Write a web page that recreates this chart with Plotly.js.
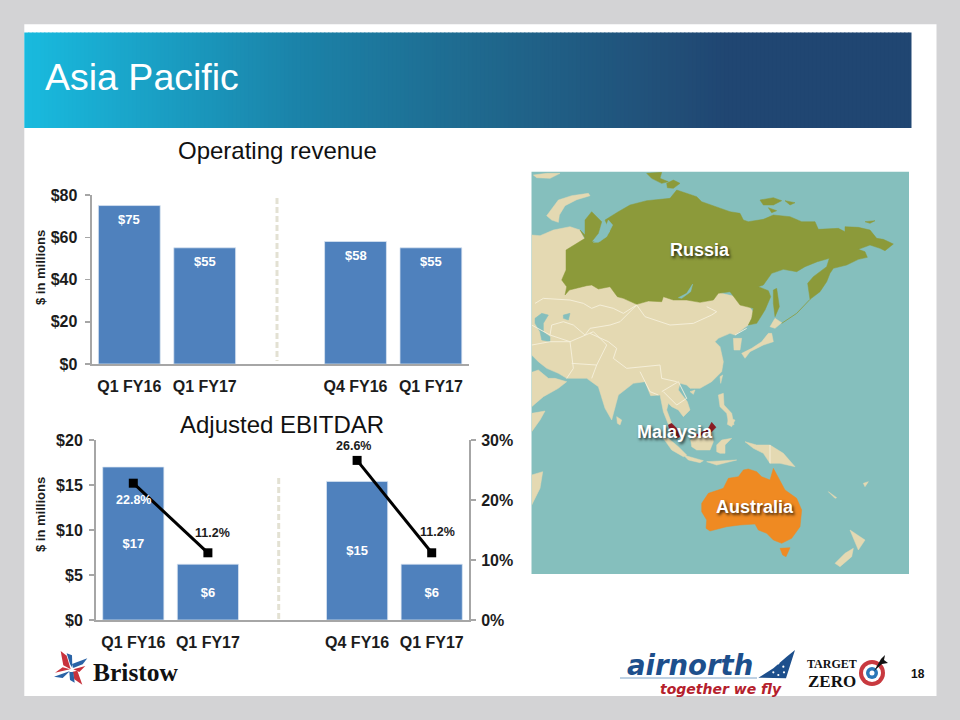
<!DOCTYPE html>
<html><head><meta charset="utf-8">
<script src="https://cdn.plot.ly/plotly-3.0.1.min.js"></script>
<style>html,body{margin:0;padding:0;background:#d3d3d5;overflow:hidden}#c{width:960px;height:720px}</style>
</head><body><div id="c"></div>
<script>
// ---------- chart values ----------
const barSlots = [0, 1, 3, 4];
const revenueTicks = ['Q1 FY16', 'Q1 FY17', 'Q4 FY16', 'Q1 FY17'];
const revenueValues = [75, 55, 58, 55];
const revenueLabels = ['$75', '$55', '$58', '$55'];
const ebitdarValues = [17, 6.2, 15.4, 6.2];
const ebitdarLabels = ['$17', '$6', '$15', '$6'];
const marginSlots = [0, 1, null, 3, 4];
const marginValues = [22.8, 11.2, null, 26.6, 11.2];
const marginPoints = [22.8, 11.2, 26.6, 11.2];
const marginLabels = ['22.8%', '11.2%', '26.6%', '11.2%'];
const revenueAxisVals = [0, 20, 40, 60, 80];
const revenueAxisText = ['$0', '$20', '$40', '$60', '$80'];
const ebitdarAxisVals = [0, 5, 10, 15, 20];
const ebitdarAxisText = ['$0', '$5', '$10', '$15', '$20'];
const marginAxisVals = [0, 10, 20, 30];
const marginAxisText = ['0%', '10%', '20%', '30%'];

// ---------- map outlines (hidden map axes) ----------
const mapBeige = [
 [[5,210],[30,212],[70,195],[120,185],[150,195],[200,300],[640,400],[672,445],[655,480],[640,492],[615,510],[600,505],[565,520],[555,530],[570,545],[580,590],[575,620],[545,650],[510,670],[480,670],[470,660],[450,655],[445,675],[472,710],[480,735],[460,755],[445,735],[425,725],[415,715],[410,735],[425,775],[415,778],[400,740],[390,690],[362,692],[345,650],[310,655],[265,690],[245,765],[225,730],[205,665],[170,640],[110,640],[85,625],[50,610],[25,590],[5,570]],
 [[5,622],[25,615],[55,640],[75,640],[110,650],[85,670],[40,695],[5,725]],
 [[5,745],[45,738],[30,765],[5,800]],
 [[5,930],[38,920],[30,970],[5,1020]],
 [[50,152],[62,135],[85,105],[125,92],[175,85],[180,92],[140,104],[105,122],[88,150],[85,172],[65,165]],
 [[10,30],[50,25],[90,25],[60,40],[20,38]],
 [[610,520],[635,520],[630,555],[612,555]],
 [[720,485],[735,460],[755,473],[735,490]],
 [[725,505],[730,530],[700,540],[660,560],[645,580],[635,565],[665,550],[695,530],[715,505]],
 [[570,635],[578,630],[572,655]],
 [[480,680],[495,675],[490,688]],
 [[260,755],[275,765],[270,780],[262,775]],
 [[565,690],[580,685],[582,720],[605,745],[612,780],[595,770],[590,745],[570,725]],
 [[595,760],[615,765],[605,785],[592,778]],
 [[482,825],[510,805],[545,800],[550,830],[540,855],[500,855],[485,845]],
 [[400,820],[415,820],[445,845],[470,870],[460,875],[425,855]],
 [[460,870],[500,880],[520,887],[510,893],[475,885]],
 [[530,890],[610,887],[620,885],[560,900]],
 [[560,840],[575,825],[605,820],[585,840],[585,865],[570,865],[560,860]],
 [[645,830],[680,840],[720,840],[760,865],[795,905],[750,895],[720,895],[700,865],[670,850]],
 [[960,1095],[975,1105],[1005,1125],[985,1155],[975,1130]],
 [[915,1195],[945,1165],[970,1150],[965,1175],[930,1205]],
 [[895,980],[920,998],[915,1000]],
 [[1000,955],[1015,950],[1005,965]]
];
const mapRussia = [
 [[105,390],[118,375],[170,362],[185,360],[205,372],[240,365],[262,395],[280,400],[320,418],[355,408],[395,410],[400,395],[430,405],[470,405],[510,412],[550,405],[565,385],[600,380],[630,420],[670,430],[665,460],[655,480],[680,475],[705,435],[722,395],[715,377],[685,365],[700,360],[725,325],[760,313],[800,320],[825,305],[862,290],[898,280],[890,305],[850,335],[833,355],[840,403],[870,380],[890,350],[900,325],[910,310],[950,300],[985,283],[1012,277],[1005,260],[985,253],[1020,240],[1050,250],[1065,257],[1090,237],[1060,223],[1040,220],[1020,195],[985,187],[945,185],[945,200],[925,190],[865,193],[855,170],[815,170],[780,155],[730,150],[700,163],[655,170],[640,165],[630,145],[600,140],[515,110],[500,95],[440,75],[420,100],[350,107],[300,120],[265,140],[240,155],[225,165],[240,200],[210,230],[185,230],[205,205],[215,170],[185,140],[165,165],[165,210],[150,195],[165,220],[108,255],[108,315],[95,345],[110,365]],
 [[350,25],[395,22],[390,40],[415,50],[395,55],[365,40]],
 [[410,55],[430,45],[450,55],[430,70],[412,68]],
 [[690,105],[730,98],[755,107],[730,120],[700,120]],
 [[765,107],[795,113],[780,120]],
 [[715,128],[740,137],[725,143]],
 [[1005,170],[1035,167],[1020,175]],
 [[730,375],[740,370],[748,425],[735,455],[730,415]]
];
const mapAustralia = [
 [[515,1015],[535,985],[580,970],[595,940],[625,935],[640,915],[655,912],[680,920],[695,935],[720,945],[730,910],[755,955],[765,975],[800,1000],[815,1035],[810,1085],[785,1120],[755,1135],[730,1125],[710,1105],[685,1095],[675,1077],[630,1080],[590,1085],[540,1098],[528,1090],[530,1065],[515,1040]],
 [[750,1150],[780,1148],[768,1175],[758,1170]]
];
const mapMalaysia = [
 [[480,815],[510,805],[535,790],[545,772],[558,787],[545,800],[510,812]],
 [[415,780],[425,775],[440,790],[450,815],[440,820],[420,800]]
];
const mapWater = [
 [[15,460],[35,445],[55,450],[40,475],[40,500],[60,515],[60,530],[35,525],[30,500],[15,475]],
 [[100,450],[120,445],[115,465],[100,460]],
 [[445,398],[470,385],[488,357],[482,380],[455,400]],
 [[235,165],[248,180],[230,215],[205,232],[190,232],[215,215]]
];
const mapBorders = [
 [[15,415],[40,400],[120,405],[160,415],[185,430],[210,420],[250,430],[280,445],[320,420]],
 [[320,420],[345,455],[420,480],[490,475],[545,450],[560,440],[530,425]],
 [[320,420],[270,470],[240,480],[180,490],[165,510],[130,480],[100,470],[65,480],[60,510]],
 [[180,505],[235,530],[260,550],[250,580],[290,610],[350,605],[390,600],[395,640],[440,650]],
 [[120,530],[130,610],[110,640]],
 [[120,530],[190,500],[230,540],[200,600],[125,595]],
 [[200,600],[185,640]],
 [[330,620],[360,680],[385,690]],
 [[395,680],[445,650],[470,700],[440,720],[400,680]],
 [[615,510],[650,490]],
 [[720,840],[720,895]],
 [[5,480],[60,510],[120,530]],
 [[5,540],[60,530],[120,530]]
];
const mapKurils = [[755,475],[800,445],[840,403]];

// ---------- helpers ----------
const W = 960, H = 720;
const fx = p => p / W, fy = p => 1 - p / H;
const rawFont = (size, color, bold, family) => ({size, color, family: family || 'Liberation Sans, Arial, sans-serif', weight: bold ? 700 : 400});
function polyTrace(polys, color, lineWidth, isLine) {
  const x = [], y = [];
  polys.forEach(p => { p.forEach(q => { x.push(q[0]); y.push(q[1]); }); if (!isLine) { x.push(p[0][0]); y.push(p[0][1]); } x.push(null); y.push(null); });
  return {type:'scatter', mode:'lines', x, y, xaxis:'x3', yaxis:'y3', hoverinfo:'skip', showlegend:false,
    fill: isLine ? 'none' : 'toself', fillcolor: color, line:{color, width: lineWidth, shape:'linear'}, connectgaps:false};
}
const shapes = [];
function rect(x0,y0,x1,y1,fill,line){ shapes.push({type:'rect',xref:'paper',yref:'paper',x0:fx(x0),x1:fx(x1),y0:fy(y0),y1:fy(y1),fillcolor:fill,line:line||{width:0},layer:'below'}); }
function circle(cx,cy,r,fill){ shapes.push({type:'circle',xref:'paper',yref:'paper',x0:fx(cx-r),x1:fx(cx+r),y0:fy(cy-r),y1:fy(cy+r),fillcolor:fill,line:{width:0},layer:'above'}); }
function poly(pts,fill){ const d = pts.map((p,i)=>(i?'L':'M')+fx(p[0]).toFixed(5)+','+fy(p[1]).toFixed(5)).join(' ')+' Z';
  shapes.push({type:'path',xref:'paper',yref:'paper',path:d,fillcolor:fill,line:{width:0},layer:'above'}); }
function pline(x0,y0,x1,y1,color,width,dash){ shapes.push({type:'line',xref:'paper',yref:'paper',x0:fx(x0),x1:fx(x1),y0:fy(y0),y1:fy(y1),line:{color,width,dash:dash||'solid'},layer:'below'}); }

// slide background
rect(24.3,24.3,936.5,696,'#ffffff');
const gradStops = [[0,[25,186,222]],[0.31,[27,130,168]],[0.5,[31,106,143]],[0.72,[33,79,120]],[0.79,[32,70,114]],[1,[32,70,114]]];
const hx0 = 24.3, hx1 = 911.5, step = 4;
for (let x = hx0; x < hx1; x += step) {
  const t = (x - hx0) / (hx1 - hx0);
  let i = 0; while (i < gradStops.length - 2 && t > gradStops[i+1][0]) i++;
  const a = gradStops[i], b = gradStops[i+1], u = (t - a[0]) / (b[0] - a[0]);
  const c = a[1].map((v,k)=>Math.round(v + (b[1][k]-v)*u));
  rect(x, 32.5, Math.min(x + step + 1, hx1), 128, 'rgb('+c.join(',')+')');
}
// map backdrop
rect(531.5,171.7,909,574,'#85bfbd');
// separators
pline(277,198,277,361,'#e3e1d3',3,'6px,3px');
pline(278.7,478,278.7,619,'#e3e1d3',3,'6px,3px');
// Bristow mark (logo drawing)
const bx = p => [40 + p[0]/3, 640 + p[1]/3];
[[[62,33],[80,47],[92,88],[70,76]],[[98,95],[112,92],[127,134],[103,118]],[[100,88],[136,78],[118,96]],[[90,88],[45,98],[68,82]]].forEach(p=>poly(p.map(bx),'#c8323c'));
[[[80,40],[96,46],[97,84],[90,72]],[[96,72],[142,55],[128,73],[100,84]],[[88,96],[100,96],[104,128],[90,120]],[[42,110],[90,93],[68,114]]].forEach(p=>poly(p.map(bx),'#2a63a6'));
// airnorth tail
const ax = p => [610 + p[0]/3, 645 + p[1]/3];
poly([[555,15],[528,100],[445,98],[490,70],[530,35]].map(ax),'#1d4f8c');
[[505,55],[520,65],[505,90],[490,82],[522,82]].map(ax).forEach(p=>circle(p[0],p[1],1.1,'#ffffff'));
pline(620,678,757,678,'#7fa3c7',1);
shapes[shapes.length-1].layer='above';
// target zero bullseye
circle(872,673,13,'#c8393f'); circle(872,673,9,'#ffffff'); circle(872,673,6,'#2a78b8'); circle(872,673,2.5,'#ffffff');
poly([[874,671],[881,659],[885,655],[884,660],[888,663],[882,664]],'#111111');

// ---------- axes ----------
const axisGrey = '#a6a6a6';
const tickFont = rawFont(16, '#1c1c1c', true);
const xAxisBase = {range:[-0.5,4.5], tickmode:'array', tickvals:barSlots, ticktext:revenueTicks, tickfont:tickFont, ticks:'outside', ticklen:7, tickcolor:'rgba(0,0,0,0)',
  showline:true, linecolor:axisGrey, linewidth:2, showgrid:false, zeroline:false, fixedrange:true};
const yAxisBase = {tickmode:'array', tickfont:tickFont, ticks:'outside', ticklen:5, tickwidth:1.5, tickcolor:axisGrey, showline:true, linecolor:axisGrey, linewidth:2,
  showgrid:false, zeroline:false, fixedrange:true, ticklabelstandoff:2};

const traces = [
  polyTrace(mapBeige,'#e4d9b2',0.5),
  polyTrace(mapRussia,'#8c9a3a',0.5),
  polyTrace(mapAustralia,'#ef8a22',0.5),
  polyTrace(mapMalaysia,'#8a1c24',0.5),
  polyTrace(mapWater,'#85bfbd',0.5),
  polyTrace(mapBorders,'#f6f1dd',0.9,true),
  polyTrace([mapKurils],'#8c9a3a',0.8,true),
  {type:'bar', x:barSlots, y:revenueValues, marker:{color:'#4f81bd', line:{color:'#dbe5f1',width:0.75}}, xaxis:'x', yaxis:'y', hoverinfo:'skip', showlegend:false},
  {type:'bar', x:barSlots, y:ebitdarValues, text:ebitdarLabels, textposition:'inside', insidetextanchor:'middle', constraintext:'none', textangle:0,
    textfont:rawFont(13,'#ffffff',true), marker:{color:'#4f81bd', line:{color:'#dbe5f1',width:0.75}}, xaxis:'x2', yaxis:'y2', hoverinfo:'skip', showlegend:false},
  {type:'scatter', mode:'lines+markers', x:marginSlots, y:marginValues, xaxis:'x2', yaxis:'y4', connectgaps:false, cliponaxis:false,
    line:{color:'#000000',width:3}, marker:{symbol:'square',size:9,color:'#000000'}, hoverinfo:'skip', showlegend:false}
];

// ---------- text ----------
const txt = (px,py,text,font,extra) => Object.assign({xref:'paper',yref:'paper',x:fx(px),y:fy(py),text,font,showarrow:false,xanchor:'center',yanchor:'middle'},extra||{});
const labelOffsets = [[0,-17],[5,20],[-4,14],[6,21]];
const labelColors = ['#ffffff','#1c1c1c','#1c1c1c','#1c1c1c'];
const mapShadow = '1.5px 2px 3px rgba(0,0,0,0.75)';
const annotations = [
  txt(43,77,'Asia Pacific',rawFont(37.5,'#ffffff',false),{xanchor:'left'}),
  txt(277,150,'Operating revenue',rawFont(24,'#111111',false)),
  txt(281.7,424,'Adjusted EBITDAR',rawFont(24,'#111111',false)),
  txt(40,268,'$ in millions',rawFont(13,'#1c1c1c',true),{textangle:-90}),
  txt(40,515,'$ in millions',rawFont(13,'#1c1c1c',true),{textangle:-90}),
  txt(700,250,'Russia',Object.assign(rawFont(18,'#ffffff',true),{shadow:mapShadow})),
  txt(675,432,'Malaysia',Object.assign(rawFont(18,'#ffffff',true),{shadow:mapShadow})),
  txt(755,506.5,'Australia',Object.assign(rawFont(18,'#ffffff',true),{shadow:mapShadow})),
  txt(918,674,'18',rawFont(12,'#111111',true)),
  txt(135.5,672,'Bristow',rawFont(25.5,'#111111',true,'Liberation Serif, serif')),
  txt(690,665,'airnorth',Object.assign(rawFont(27.5,'#1d4f8c',true,'DejaVu Sans, sans-serif'),{style:'italic'})),
  txt(721,688.5,'together we fly',Object.assign(rawFont(14,'#b5202c',true,'DejaVu Sans, sans-serif'),{style:'italic'})),
  txt(832,663.5,'TARGET',rawFont(12,'#111111',true,'Liberation Serif, serif')),
  txt(832,681.5,'ZERO',rawFont(17,'#111111',true,'Liberation Serif, serif'))
];
revenueValues.forEach((v,i)=>{
  annotations.push({xref:'x',yref:'y',x:barSlots[i],y:v,text:revenueLabels[i],showarrow:false,xanchor:'center',yanchor:'middle',yshift:-14,font:rawFont(13,'#ffffff',true)});
});
marginPoints.forEach((v,i)=>{
  annotations.push({xref:'x2',yref:'y4',x:barSlots[i],y:v,text:marginLabels[i],showarrow:false,xanchor:'center',yanchor:'middle',
    xshift:labelOffsets[i][0],yshift:labelOffsets[i][1],font:rawFont(12.5,labelColors[i],true)});
});

const layout = {
  width:W, height:H, margin:{l:0,r:0,t:0,b:0}, autosize:false, paper_bgcolor:'#d3d3d5', plot_bgcolor:'rgba(0,0,0,0)',
  showlegend:false, bargap:0.18, shapes, annotations,
  xaxis:Object.assign({},xAxisBase,{domain:[fx(91.6),fx(468.6)],anchor:'y'}),
  yaxis:Object.assign({},yAxisBase,{domain:[fy(364),fy(195)],anchor:'x',range:[0,80],tickvals:revenueAxisVals,ticktext:revenueAxisText,ticklabelstandoff:4}),
  xaxis2:Object.assign({},xAxisBase,{domain:[fx(96),fx(469)],anchor:'y2'}),
  yaxis2:Object.assign({},yAxisBase,{domain:[fy(620),fy(440)],anchor:'x2',range:[0,20],tickvals:ebitdarAxisVals,ticktext:ebitdarAxisText,ticklabelstandoff:3}),
  yaxis4:Object.assign({},yAxisBase,{domain:[fy(620),fy(440)],anchor:'x2',overlaying:'y2',side:'right',range:[0,30],tickvals:marginAxisVals,ticktext:marginAxisText}),
  xaxis3:{domain:[fx(531.7),fx(909)],range:[5,1137],visible:false,fixedrange:true,anchor:'y3'},
  yaxis3:{domain:[fy(574),fy(171.7)],range:[1227,20],visible:false,fixedrange:true,anchor:'x3'}
};
Plotly.newPlot('c',traces,layout,{displayModeBar:false,staticPlot:true});
</script></body></html>
